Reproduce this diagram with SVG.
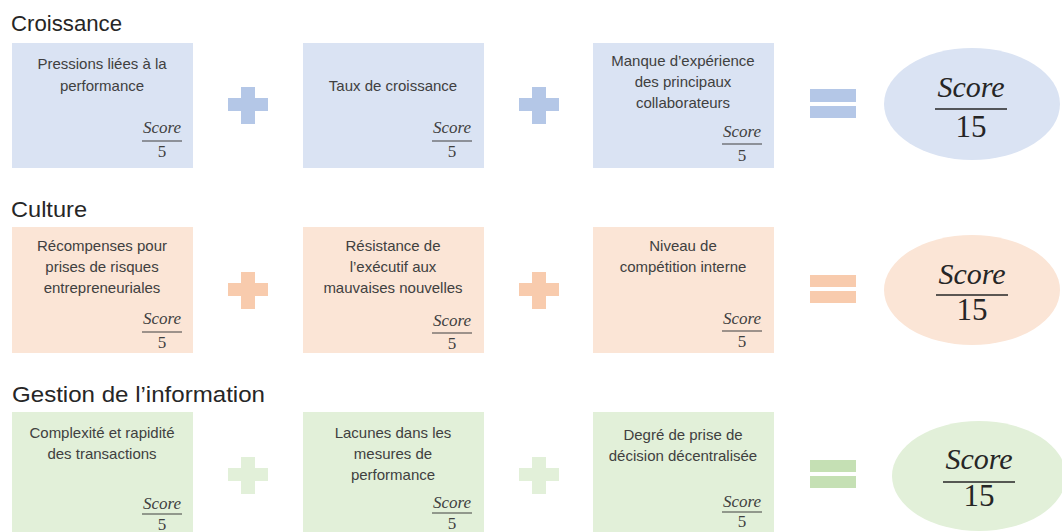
<svg xmlns="http://www.w3.org/2000/svg" width="1062" height="532" viewBox="0 0 1062 532">
<defs>
<style>
.title{font-family:"Liberation Sans",Arial,sans-serif;font-size:22px;fill:#262626}
.lbl{font-family:"Liberation Sans",Arial,sans-serif;font-size:15px;fill:#404040;text-anchor:middle}
.sc{font-family:"Liberation Serif","DejaVu Serif",serif;font-style:italic;font-size:17px;fill:#404040;text-anchor:middle}
.num{font-family:"Liberation Serif","DejaVu Serif",serif;font-size:17px;fill:#404040;text-anchor:middle}
.scL{font-family:"Liberation Serif","DejaVu Serif",serif;font-style:italic;font-size:30px;fill:#262626;text-anchor:middle}
.numL{font-family:"Liberation Serif","DejaVu Serif",serif;font-size:31px;fill:#262626;text-anchor:middle}
.fl{stroke:#404040;stroke-width:1.2}
.flL{stroke:#262626;stroke-width:1.6}
.b{fill:#DAE3F3}.bo{fill:#B4C7E7}
.o{fill:#FBE5D6}.oo{fill:#F8CBAD}
.g{fill:#E2F0D9}.go{fill:#E2F0D9}.ge{fill:#C5E0B4}
</style>
<path id="plus" d="M13 0h14v11h13v13h-13v13h-14v-13h-13v-13h13z"/>
</defs>
<rect width="1062" height="532" fill="#ffffff"/>

<text class="title" x="11" y="31" textLength="111" lengthAdjust="spacingAndGlyphs">Croissance</text>
<text class="title" x="11" y="217" textLength="76" lengthAdjust="spacingAndGlyphs">Culture</text>
<text class="title" x="12" y="402" textLength="253" lengthAdjust="spacingAndGlyphs">Gestion de l’information</text>

<!-- Row 1 -->
<g id="c1">
<rect class="b" x="12" y="43" width="181" height="125"/>
<text class="lbl" x="102" y="69">Pressions liées à la</text>
<text class="lbl" x="102" y="91">performance</text>
<text class="sc" x="162" y="133">Score</text>
<line class="fl" x1="142" y1="141" x2="182" y2="141"/>
<text class="num" x="162" y="157">5</text>
</g>
<g id="c2">
<rect class="b" x="303" y="43" width="181" height="125"/>
<text class="lbl" x="393" y="91">Taux de croissance</text>
<text class="sc" x="452" y="133">Score</text>
<line class="fl" x1="432" y1="141" x2="472" y2="141"/>
<text class="num" x="452" y="157">5</text>
</g>
<g id="c3">
<rect class="b" x="593" y="43" width="181" height="125"/>
<text class="lbl" x="683" y="66">Manque d’expérience</text>
<text class="lbl" x="683" y="87">des principaux</text>
<text class="lbl" x="683" y="108">collaborateurs</text>
<text class="sc" x="742" y="137">Score</text>
<line class="fl" x1="722" y1="144" x2="762" y2="144"/>
<text class="num" x="742" y="161">5</text>
</g>
<g id="c-res">
<ellipse class="b" cx="972" cy="104" rx="88" ry="56"/>
<text class="scL" x="971" y="97">Score</text>
<line class="flL" x1="935" y1="109" x2="1007" y2="109"/>
<text class="numL" x="971" y="137">15</text>
</g>

<!-- Row 2 -->
<g id="u1">
<rect class="o" x="12" y="227" width="181" height="126"/>
<text class="lbl" x="102" y="251">Récompenses pour</text>
<text class="lbl" x="102" y="272">prises de risques</text>
<text class="lbl" x="102" y="293">entrepreneuriales</text>
<text class="sc" x="162" y="324">Score</text>
<line class="fl" x1="142" y1="332" x2="182" y2="332"/>
<text class="num" x="162" y="348">5</text>
</g>
<g id="u2">
<rect class="o" x="303" y="227" width="181" height="126"/>
<text class="lbl" x="393" y="251">Résistance de</text>
<text class="lbl" x="393" y="272">l’exécutif aux</text>
<text class="lbl" x="393" y="293">mauvaises nouvelles</text>
<text class="sc" x="452" y="326">Score</text>
<line class="fl" x1="432" y1="333" x2="472" y2="333"/>
<text class="num" x="452" y="349">5</text>
</g>
<g id="u3">
<rect class="o" x="593" y="227" width="181" height="126"/>
<text class="lbl" x="683" y="251">Niveau de</text>
<text class="lbl" x="683" y="272">compétition interne</text>
<text class="sc" x="742" y="324">Score</text>
<line class="fl" x1="722" y1="331" x2="762" y2="331"/>
<text class="num" x="742" y="347">5</text>
</g>
<g id="u-res">
<ellipse class="o" cx="972" cy="290" rx="88" ry="55"/>
<text class="scL" x="972" y="284">Score</text>
<line class="flL" x1="936" y1="295" x2="1008" y2="295"/>
<text class="numL" x="972" y="320">15</text>
</g>

<!-- Row 3 -->
<g id="g1">
<rect class="g" x="12" y="412" width="181" height="125"/>
<text class="lbl" x="102" y="438">Complexité et rapidité</text>
<text class="lbl" x="102" y="459">des transactions</text>
<text class="sc" x="162" y="509">Score</text>
<line class="fl" x1="142" y1="514" x2="182" y2="514"/>
<text class="num" x="162" y="530">5</text>
</g>
<g id="g2">
<rect class="g" x="303" y="412" width="181" height="125"/>
<text class="lbl" x="393" y="438">Lacunes dans les</text>
<text class="lbl" x="393" y="459">mesures de</text>
<text class="lbl" x="393" y="480">performance</text>
<text class="sc" x="452" y="508">Score</text>
<line class="fl" x1="432" y1="513" x2="472" y2="513"/>
<text class="num" x="452" y="529">5</text>
</g>
<g id="g3">
<rect class="g" x="593" y="412" width="181" height="125"/>
<text class="lbl" x="683" y="440">Degré de prise de</text>
<text class="lbl" x="683" y="461">décision décentralisée</text>
<text class="sc" x="742" y="507">Score</text>
<line class="fl" x1="722" y1="512" x2="762" y2="512"/>
<text class="num" x="742" y="527">5</text>
</g>
<g id="g-res">
<ellipse class="g" cx="979" cy="476" rx="87" ry="55"/>
<text class="scL" x="979" y="469">Score</text>
<line class="flL" x1="943" y1="482" x2="1015" y2="482"/>
<text class="numL" x="979" y="506">15</text>
</g>

<!-- Connectors (operators) -->
<g id="operators">
<use href="#plus" class="bo" x="228" y="87"/>
<use href="#plus" class="bo" x="519" y="87"/>
<rect class="bo" x="810" y="89" width="46" height="13"/>
<rect class="bo" x="810" y="106" width="46" height="12"/>
<use href="#plus" class="oo" x="228" y="272"/>
<use href="#plus" class="oo" x="519" y="272"/>
<rect class="oo" x="810" y="275" width="46" height="12"/>
<rect class="oo" x="810" y="291" width="46" height="12"/>
<use href="#plus" class="go" x="228" y="457"/>
<use href="#plus" class="go" x="519" y="457"/>
<rect class="ge" x="810" y="460" width="46" height="12"/>
<rect class="ge" x="810" y="476" width="46" height="12"/>
</g>
</svg>
